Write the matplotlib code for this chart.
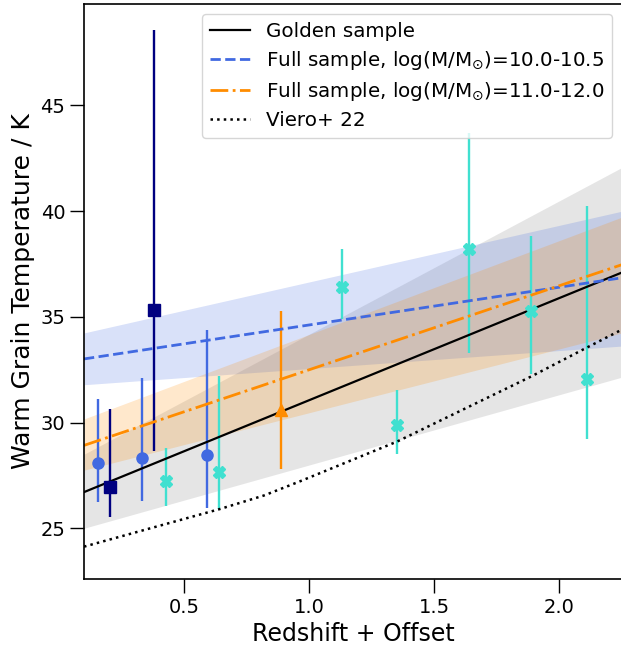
import numpy as np
import matplotlib
matplotlib.use("Agg")
import matplotlib.pyplot as plt

# redshift (with offset) grid where the fits are drawn
z_fit = [0.1, 2.25]

# golden sample fit and its uncertainty band
golden_T = [26.71, 37.1]
golden_lo = [25.0, 32.15]
golden_hi = [28.5, 42.07]

# full sample, log(M/Msun) = 10.0-10.5
low_T = [33.01, 36.85]
low_lo = [31.79, 33.62]
low_hi = [34.24, 40.0]

# full sample, log(M/Msun) = 11.0-12.0
high_T = [28.92, 37.47]
high_lo = [27.75, 34.24]
high_hi = [30.17, 39.72]

# Viero+ 22 relation
viero_z = [0.1, 0.643, 0.819, 0.963, 1.351, 1.887, 2.110, 2.25]
viero_T = [24.13, 25.91, 26.55, 27.22, 29.10, 32.18, 33.55, 34.40]

# binned measurements: centre, lower end, upper end of error bar
circ_z = [0.156, 0.330, 0.590]
circ_T = [28.11, 28.34, 28.47]
circ_lo = [26.23, 26.31, 25.98]
circ_hi = [31.12, 32.10, 34.39]

sq_z = [0.203, 0.379]
sq_T = [26.96, 35.34]
sq_lo = [25.52, 28.65]
sq_hi = [30.66, 48.56]

tri_z = [0.888]
tri_T = [30.60]
tri_lo = [27.79]
tri_hi = [35.26]

x_z = [0.428, 0.639, 1.130, 1.351, 1.638, 1.887, 2.110]
x_T = [27.24, 27.65, 36.39, 29.89, 38.21, 35.30, 32.05]
x_lo = [26.06, 25.91, 34.90, 28.50, 33.29, 32.29, 29.23]
x_hi = [28.79, 32.18, 38.21, 31.52, 43.72, 38.84, 40.23]


def errs(T, lo, hi):
    T, lo, hi = np.array(T), np.array(lo), np.array(hi)
    return [T - lo, hi - T]


fig = plt.figure(figsize=(6.21, 6.48), dpi=100)
ax = fig.add_axes([84/621, 69/648, 538/621, 575/648])

ax.fill_between(z_fit, golden_lo, golden_hi, color='grey', alpha=0.2, lw=0)
ax.fill_between(z_fit, low_lo, low_hi, color='royalblue', alpha=0.2, lw=0)
ax.fill_between(z_fit, high_lo, high_hi, color='darkorange', alpha=0.2, lw=0)

ax.errorbar(circ_z, circ_T, yerr=errs(circ_T, circ_lo, circ_hi), fmt='o',
            color='royalblue', ms=8, elinewidth=1.7, capsize=0)
ax.errorbar(sq_z, sq_T, yerr=errs(sq_T, sq_lo, sq_hi), fmt='s',
            color='navy', ms=8, elinewidth=1.7, capsize=0)
ax.errorbar(tri_z, tri_T, yerr=errs(tri_T, tri_lo, tri_hi), fmt='^',
            color='darkorange', ms=8, elinewidth=1.7, capsize=0)
ax.errorbar(x_z, x_T, yerr=errs(x_T, x_lo, x_hi), fmt='X',
            color='turquoise', ms=8, elinewidth=1.7, capsize=0)

ax.plot(z_fit, golden_T, '-', color='black', lw=1.6, label='Golden sample')
ax.plot(z_fit, low_T, '--', color='royalblue', lw=2,
        label=r'Full sample, log(M/M$_{\odot}$)=10.0-10.5')
ax.plot(z_fit, high_T, '-.', color='darkorange', lw=2,
        label=r'Full sample, log(M/M$_{\odot}$)=11.0-12.0')
ax.plot(viero_z, viero_T, ':', color='black', lw=1.8, label='Viero+ 22')

ax.set_xlim(0.1, 2.25)
ax.set_ylim(22.6, 49.8)
ax.set_xticks([0.5, 1.0, 1.5, 2.0])
ax.set_yticks([25, 30, 35, 40, 45])
ax.tick_params(labelsize=14, length=10, width=1)
ax.spines['right'].set_visible(False)
for s in ['left', 'bottom', 'top']:
    ax.spines[s].set_linewidth(1.2)
ax.set_xlabel("Redshift + Offset", fontsize=17)
ax.set_ylabel("Warm Grain Temperature / K", fontsize=18)
ax.legend(loc='upper right', fontsize=14.3, labelspacing=0.4)

plt.savefig("out.png", dpi=100)
plt.close()
